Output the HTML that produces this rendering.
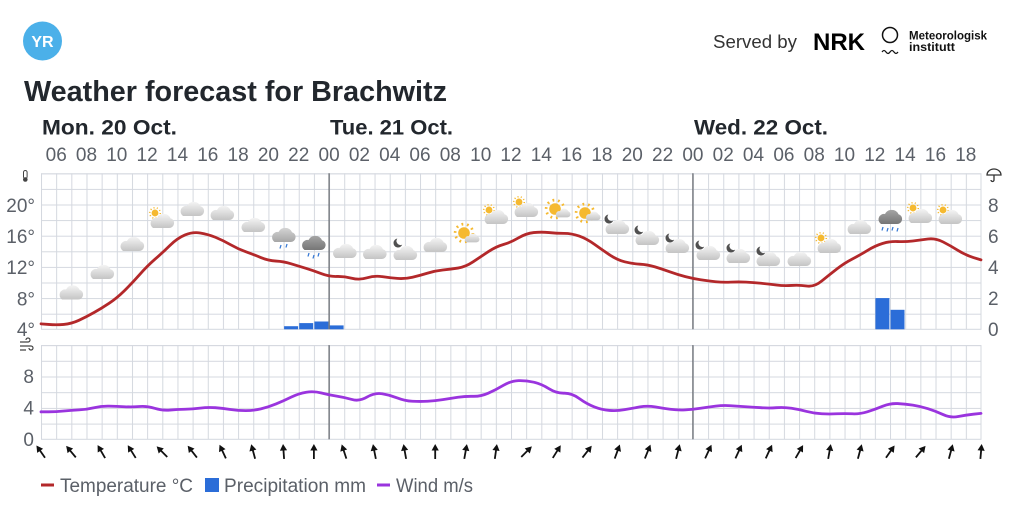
<!DOCTYPE html>
<html><head><meta charset="utf-8"><style>
html,body{margin:0;padding:0;background:#fff;}
svg{display:block;font-family:"Liberation Sans",sans-serif;}
</style></head><body>
<svg width="1024" height="524" viewBox="0 0 1024 524" xmlns="http://www.w3.org/2000/svg">
<defs>
<linearGradient id="cg" x1="0" y1="0" x2="0" y2="1"><stop offset="0" stop-color="#f4f4f4"/><stop offset="1" stop-color="#c4c4c4"/></linearGradient>
<linearGradient id="cm" x1="0" y1="0" x2="0" y2="1"><stop offset="0" stop-color="#d4d4d4"/><stop offset="1" stop-color="#a6a6a6"/></linearGradient>
<linearGradient id="cd" x1="0" y1="0" x2="0" y2="1"><stop offset="0" stop-color="#a4a4a4"/><stop offset="1" stop-color="#767676"/></linearGradient>
<path id="cp" d="M-9 7H7A5 5 0 0 0 8.5-2.8A7.5 7.5 0 0 0-5-3A5.5 5.5 0 0 0-9 7Z"/>
<g id="c"><use href="#cp" fill="url(#cg)"/></g>
<g id="s"><circle r="4.3" fill="#f5b930"/><circle r="6.6" fill="none" stroke="#f5b930" stroke-width="2" stroke-dasharray="1.3 2.847"/></g>
<path id="m" d="M-0.66 -4.45A4.5 4.5 0 1 0 4.2 1.62A4 4 0 0 1-0.66-4.45Z" fill="#505050"/>
<g id="ar"><line x1="0" y1="7" x2="0" y2="-3" stroke="#111" stroke-width="1.8"/><path d="M0 -8L-3.6 -1.5L3.6 -1.5Z" fill="#111"/></g>
<pattern id="gt" patternUnits="userSpaceOnUse" x="41" y="173.3" width="15.1613" height="15.6"><path d="M0.5 0V15.6M0 0.5H15.1613" stroke="#d4d8df" stroke-width="1" fill="none"/></pattern>
<pattern id="gw" patternUnits="userSpaceOnUse" x="41" y="345.1" width="15.1613" height="15.7"><path d="M0.5 0V15.7M0 0.5H15.1613" stroke="#d4d8df" stroke-width="1" fill="none"/></pattern>
</defs>

<!-- header -->
<circle cx="42.5" cy="41" r="19.5" fill="#4bb0e9"/>
<text x="42.5" y="47" font-size="16" font-weight="bold" fill="#fff" text-anchor="middle">YR</text>
<text x="713" y="48" font-size="18" fill="#333" textLength="84" lengthAdjust="spacingAndGlyphs">Served by</text>
<text x="813" y="50" font-size="24" font-weight="bold" fill="#000" textLength="52" lengthAdjust="spacingAndGlyphs">NRK</text>
<circle cx="890" cy="35" r="7.5" fill="none" stroke="#111" stroke-width="1.5"/>
<path d="M882 52q2-3 4 0t4 0t4 0t4 0" fill="none" stroke="#111" stroke-width="1.2"/>
<text x="909" y="39.5" font-size="12" font-weight="bold" fill="#111" textLength="78" lengthAdjust="spacingAndGlyphs">Meteorologisk</text>
<text x="909" y="51" font-size="12" font-weight="bold" fill="#111" textLength="46" lengthAdjust="spacingAndGlyphs">institutt</text>

<text x="24" y="101" font-size="29" font-weight="bold" fill="#22272d" textLength="423" lengthAdjust="spacingAndGlyphs">Weather forecast for Brachwitz</text>

<g font-size="21" font-weight="bold" fill="#22272d">
<text x="42" y="134.5" textLength="135" lengthAdjust="spacingAndGlyphs">Mon. 20 Oct.</text>
<text x="330" y="134.5" textLength="123" lengthAdjust="spacingAndGlyphs">Tue. 21 Oct.</text>
<text x="694" y="134.5" textLength="134" lengthAdjust="spacingAndGlyphs">Wed. 22 Oct.</text>
</g>

<g font-size="19" fill="#5b6068" text-anchor="middle">
<text x="56.2" y="161">06</text><text x="86.5" y="161">08</text><text x="116.8" y="161">10</text><text x="147.1" y="161">12</text><text x="177.5" y="161">14</text><text x="207.8" y="161">16</text><text x="238.1" y="161">18</text><text x="268.4" y="161">20</text><text x="298.7" y="161">22</text><text x="329.1" y="161">00</text><text x="359.4" y="161">02</text><text x="389.7" y="161">04</text><text x="420" y="161">06</text><text x="450.3" y="161">08</text><text x="480.7" y="161">10</text><text x="511" y="161">12</text><text x="541.3" y="161">14</text><text x="571.6" y="161">16</text><text x="601.9" y="161">18</text><text x="632.3" y="161">20</text><text x="662.6" y="161">22</text><text x="692.9" y="161">00</text><text x="723.2" y="161">02</text><text x="753.5" y="161">04</text><text x="783.9" y="161">06</text><text x="814.2" y="161">08</text><text x="844.5" y="161">10</text><text x="874.8" y="161">12</text><text x="905.1" y="161">14</text><text x="935.5" y="161">16</text><text x="965.8" y="161">18</text>
</g>

<!-- axis labels -->
<g font-size="19" fill="#5b6068" text-anchor="end">
<text x="35" y="212">20°</text><text x="35" y="243">16°</text><text x="35" y="274">12°</text><text x="35" y="305.5">8°</text><text x="35" y="336">4°</text>
<text x="34" y="383">8</text><text x="34" y="414.5">4</text><text x="34" y="446">0</text>
</g>
<g font-size="19" fill="#5b6068">
<text x="988" y="212">8</text><text x="988" y="243">6</text><text x="988" y="274">4</text><text x="988" y="305">2</text><text x="988" y="336">0</text>
</g>

<!-- small axis icons -->
<rect x="23.5" y="170.5" width="3.6" height="8" rx="1.8" fill="none" stroke="#444" stroke-width="1"/>
<circle cx="25.3" cy="179.5" r="2.3" fill="#444"/>
<path d="M20 342h8a2 2 0 1 0-2-2M20 346h11a2 2 0 1 1-2 2M20 350h6" fill="none" stroke="#444" stroke-width="1.2"/>
<path d="M987 175a7 6 0 0 1 14 0Z" fill="none" stroke="#333" stroke-width="1.3"/>
<path d="M994 175v5a1.5 1.5 0 0 1-3 0" fill="none" stroke="#333" stroke-width="1.3"/>

<!-- grids -->
<rect x="41" y="173.3" width="940" height="156" fill="url(#gt)"/>
<rect x="41.5" y="173.8" width="939.5" height="155.5" fill="none" stroke="#d4d8df" stroke-width="1"/>
<rect x="41" y="345.1" width="940" height="94.2" fill="url(#gw)"/>
<rect x="41.5" y="345.6" width="939.5" height="93.7" fill="none" stroke="#d4d8df" stroke-width="1"/>

<!-- precipitation -->
<g fill="#2b6dd8">
<rect x="284.1" y="326.2" width="14" height="3.1"/>
<rect x="299.2" y="323.1" width="14" height="6.2"/>
<rect x="314.4" y="321.5" width="14" height="7.8"/>
<rect x="329.6" y="325.4" width="14" height="3.9"/>
<rect x="875.4" y="298.1" width="14" height="31.2"/>
<rect x="890.5" y="309.8" width="14" height="19.5"/>
</g>

<!-- day separators -->
<g stroke="#6b6f75" stroke-width="1.3">
<line x1="329.1" y1="173.3" x2="329.1" y2="329.3"/><line x1="692.9" y1="173.3" x2="692.9" y2="329.3"/>
<line x1="329.1" y1="345.1" x2="329.1" y2="439.3"/><line x1="692.9" y1="345.1" x2="692.9" y2="439.3"/>
</g>

<!-- weather icons -->
<use href="#c" x="71" y="292.5"/>
<use href="#c" x="102" y="272"/>
<use href="#c" x="132" y="244"/>
<use href="#s" transform="translate(155 213) scale(0.8)"/><use href="#c" x="162" y="221"/>
<use href="#c" x="192" y="209"/>
<use href="#c" x="222" y="213"/>
<use href="#c" x="253" y="225"/>
<use href="#cp" x="283.5" y="235" fill="url(#cm)"/>
<path d="M281 245l-1 3.5M287 244l-1 3.5" stroke="#3a7bd5" stroke-width="1.3"/>
<use href="#cp" x="313.5" y="243" fill="url(#cd)"/>
<path d="M309 253l-1 3.5M314 255l-1 3.5M319 253l-1 3.5" stroke="#3a7bd5" stroke-width="1.3"/>
<use href="#c" x="344.5" y="251"/>
<use href="#c" x="374.5" y="252"/>
<use href="#m" x="398" y="243"/><use href="#c" x="405" y="253"/>
<use href="#c" x="435" y="245"/>
<use href="#s" transform="translate(464 233) scale(1.35)"/><use href="#c" transform="translate(472 238) scale(0.62)"/>
<use href="#s" transform="translate(489 210) scale(0.8)"/><use href="#c" x="496" y="217"/>
<use href="#s" transform="translate(519 202) scale(0.8)"/><use href="#c" x="526" y="210"/>
<use href="#s" transform="translate(555 209) scale(1.35)"/><use href="#c" transform="translate(563 213) scale(0.62)"/>
<use href="#s" transform="translate(585 213) scale(1.35)"/><use href="#c" transform="translate(593 216) scale(0.62)"/>
<use href="#m" x="609" y="219"/><use href="#c" x="617" y="227"/>
<use href="#m" x="639" y="230"/><use href="#c" x="647" y="238"/>
<use href="#m" x="670" y="238"/><use href="#c" x="677" y="246"/>
<use href="#m" x="700" y="245"/><use href="#c" x="708" y="253"/>
<use href="#m" x="731" y="248"/><use href="#c" x="738" y="256"/>
<use href="#m" x="761" y="251"/><use href="#c" x="768" y="259"/>
<use href="#c" x="799" y="259"/>
<use href="#s" transform="translate(821 238) scale(0.8)"/><use href="#c" x="829" y="246"/>
<use href="#c" x="859" y="227"/>
<use href="#cp" x="890" y="217" fill="url(#cd)"/>
<path d="M883 227l-1 3.5M888 228l-1 3.5M893 227l-1 3.5M898 228l-1 3.5" stroke="#3a7bd5" stroke-width="1.3"/>
<use href="#s" transform="translate(913 208) scale(0.8)"/><use href="#c" x="920" y="216"/>
<use href="#s" transform="translate(943 210) scale(0.8)"/><use href="#c" x="950" y="217"/>

<!-- temperature line -->
<g transform="translate(41 360.5) scale(15.1613 -7.8)">
<path fill="none" stroke="#b3282a" stroke-width="2.8" stroke-linejoin="round" stroke-linecap="round" vector-effect="non-scaling-stroke" d="M0 4.7L0.5 4.625Q1 4.55 1.5 4.625Q2 4.7 2.5 5.15Q3 5.6 3.5 6.15Q4 6.7 4.5 7.35Q5 8.0 5.5 8.95Q6 9.9 6.5 11.0Q7 12.1 7.5 12.95Q8 13.8 8.5 14.75Q9 15.7 9.5 16.1Q10 16.5 10.5 16.35Q11 16.2 11.5 15.8Q12 15.4 12.5 14.85Q13 14.3 13.5 13.95Q14 13.6 14.5 13.2Q15 12.8 15.5 12.75Q16 12.7 16.5 12.4Q17 12.1 17.5 11.8Q18 11.5 18.5 11.125Q19 10.75 19.5 10.775Q20 10.8 20.5 10.55Q21 10.3 21.5 10.6Q22 10.9 22.5 10.75Q23 10.6 23.5 10.525Q24 10.45 24.5 10.675Q25 10.9 25.5 11.2Q26 11.5 26.5 11.6Q27 11.7 27.5 11.85Q28 12.0 28.5 12.65Q29 13.3 29.5 13.95Q30 14.6 30.5 14.875Q31 15.15 31.5 15.725Q32 16.3 32.5 16.4Q33 16.5 33.5 16.4Q34 16.3 34.5 16.3Q35 16.3 35.5 15.95Q36 15.6 36.5 14.9Q37 14.2 37.5 13.55Q38 12.9 38.5 12.65Q39 12.4 39.5 12.35Q40 12.3 40.5 12.0Q41 11.7 41.5 11.35Q42 11.0 42.5 10.75Q43 10.5 43.5 10.35Q44 10.2 44.5 10.1Q45 10.0 45.5 10.05Q46 10.1 46.5 10.05Q47 10.0 47.5 9.9Q48 9.8 48.5 9.675Q49 9.55 49.5 9.625Q50 9.7 50.5 9.55Q51 9.4 51.5 10.2Q52 11.0 52.5 11.75Q53 12.5 53.5 13.0Q54 13.5 54.5 14.1Q55 14.7 55.5 15.0Q56 15.3 56.5 15.25Q57 15.2 57.5 15.325Q58 15.45 58.5 15.575Q59 15.7 59.5 15.2Q60 14.7 60.5 14.1Q61 13.5 61.5 13.2L62 12.9"/>
</g>

<!-- wind line -->
<g transform="translate(41 439.3) scale(15.1613 -7.85)">
<path fill="none" stroke="#9a34de" stroke-width="2.8" stroke-linejoin="round" stroke-linecap="round" vector-effect="non-scaling-stroke" d="M0 3.5L0.5 3.5Q1 3.5 1.5 3.6Q2 3.7 2.5 3.75Q3 3.8 3.5 4.025Q4 4.25 4.5 4.225Q5 4.2 5.5 4.15Q6 4.1 6.5 4.175Q7 4.25 7.5 3.95Q8 3.65 8.5 3.725Q9 3.8 9.5 3.825Q10 3.85 10.5 3.975Q11 4.1 11.5 4.025Q12 3.95 12.5 3.8Q13 3.65 13.5 3.65Q14 3.65 14.5 3.875Q15 4.1 15.5 4.5Q16 4.9 16.5 5.375Q17 5.85 17.5 6.0Q18 6.15 18.5 5.9Q19 5.65 19.5 5.5Q20 5.35 20.5 5.075Q21 4.8 21.5 5.375Q22 5.95 22.5 5.8Q23 5.65 23.5 5.275Q24 4.9 24.5 4.85Q25 4.8 25.5 4.85Q26 4.9 26.5 5.05Q27 5.2 27.5 5.35Q28 5.5 28.5 5.475Q29 5.45 29.5 5.875Q30 6.3 30.5 6.875Q31 7.45 31.5 7.475Q32 7.5 32.5 7.275Q33 7.05 33.5 6.45Q34 5.85 34.5 5.875Q35 5.9 35.5 5.2Q36 4.5 36.5 4.125Q37 3.75 37.5 3.675Q38 3.6 38.5 3.775Q39 3.95 39.5 4.125Q40 4.3 40.5 4.125Q41 3.95 41.5 3.825Q42 3.7 42.5 3.75Q43 3.8 43.5 3.95Q44 4.1 44.5 4.225Q45 4.35 45.5 4.275Q46 4.2 46.5 4.15Q47 4.1 47.5 4.025Q48 3.95 48.5 4.025Q49 4.1 49.5 3.95Q50 3.8 50.5 3.55Q51 3.3 51.5 3.25Q52 3.2 52.5 3.25Q53 3.3 53.5 3.25Q54 3.2 54.5 3.5Q55 3.8 55.5 4.2Q56 4.6 56.5 4.55Q57 4.5 57.5 4.35Q58 4.2 58.5 3.9Q59 3.6 59.5 3.15Q60 2.7 60.5 2.9Q61 3.1 61.5 3.2L62 3.3"/>
</g>

<!-- wind arrows -->
<use href="#ar" transform="translate(41 452) rotate(-35)"/>
<use href="#ar" transform="translate(71.3 452) rotate(-40)"/>
<use href="#ar" transform="translate(101.6 452) rotate(-30)"/>
<use href="#ar" transform="translate(132 452) rotate(-32)"/>
<use href="#ar" transform="translate(162.3 452) rotate(-45)"/>
<use href="#ar" transform="translate(192.6 452) rotate(-38)"/>
<use href="#ar" transform="translate(222.9 452) rotate(-25)"/>
<use href="#ar" transform="translate(253.3 452) rotate(-15)"/>
<use href="#ar" transform="translate(283.6 452) rotate(-4)"/>
<use href="#ar" transform="translate(313.9 452) rotate(0)"/>
<use href="#ar" transform="translate(344.2 452) rotate(-18)"/>
<use href="#ar" transform="translate(374.5 452) rotate(-11)"/>
<use href="#ar" transform="translate(404.9 452) rotate(-10)"/>
<use href="#ar" transform="translate(435.2 452) rotate(0)"/>
<use href="#ar" transform="translate(465.5 452) rotate(10)"/>
<use href="#ar" transform="translate(495.8 452) rotate(8)"/>
<use href="#ar" transform="translate(526.2 452) rotate(45)"/>
<use href="#ar" transform="translate(556.5 452) rotate(32)"/>
<use href="#ar" transform="translate(586.8 452) rotate(38)"/>
<use href="#ar" transform="translate(617.1 452) rotate(20)"/>
<use href="#ar" transform="translate(647.5 452) rotate(22)"/>
<use href="#ar" transform="translate(677.8 452) rotate(14)"/>
<use href="#ar" transform="translate(708.1 452) rotate(25)"/>
<use href="#ar" transform="translate(738.4 452) rotate(25)"/>
<use href="#ar" transform="translate(768.7 452) rotate(25)"/>
<use href="#ar" transform="translate(799.1 452) rotate(30)"/>
<use href="#ar" transform="translate(829.4 452) rotate(10)"/>
<use href="#ar" transform="translate(859.7 452) rotate(15)"/>
<use href="#ar" transform="translate(890 452) rotate(35)"/>
<use href="#ar" transform="translate(920.4 452) rotate(40)"/>
<use href="#ar" transform="translate(950.7 452) rotate(15)"/>
<use href="#ar" transform="translate(981 452) rotate(5)"/>

<!-- legend -->
<rect x="41" y="483.5" width="13" height="3" fill="#b3282a"/>
<text x="60" y="492" font-size="19" fill="#5b6068" textLength="133" lengthAdjust="spacingAndGlyphs">Temperature °C</text>
<rect x="205" y="478" width="14" height="14" fill="#2b6dd8"/>
<text x="224" y="492" font-size="19" fill="#5b6068" textLength="142" lengthAdjust="spacingAndGlyphs">Precipitation mm</text>
<rect x="377" y="483.5" width="13" height="3" fill="#9a34de"/>
<text x="396" y="492" font-size="19" fill="#5b6068" textLength="77" lengthAdjust="spacingAndGlyphs">Wind m/s</text>
</svg>
</body></html>
